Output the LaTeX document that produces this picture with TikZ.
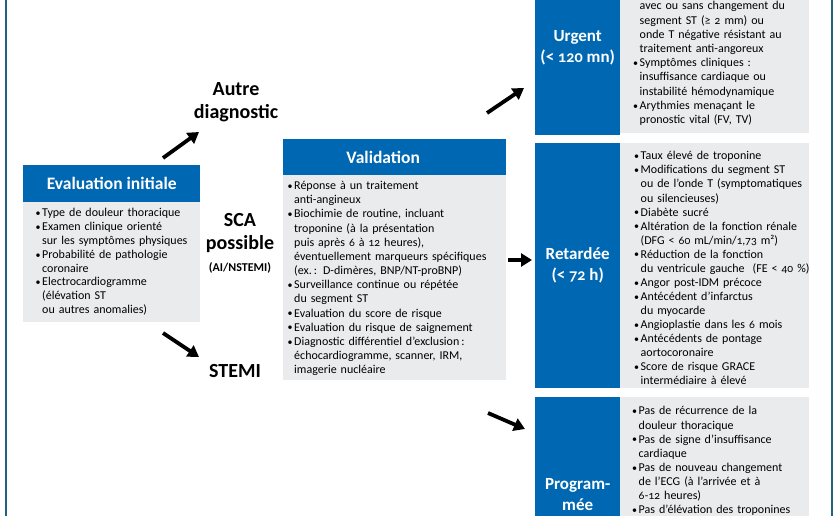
\documentclass[tikz,border=0pt]{standalone}
\usepackage{fontspec}
\setmainfont{Carlito}
\newfontfamily\od{Lato}[Numbers=OldStyle, Scale=0.9]
\usetikzlibrary{arrows.meta}
\definecolor{cblue}{RGB}{0,104,178}
\definecolor{cgray}{RGB}{234,235,236}
\definecolor{cborder}{RGB}{30,98,134}
\setlength\parskip{0pt}
\newlength\bind \setlength\bind{6.5pt}
\newcommand\mybul{\makebox[\bind][l]{\raisebox{0.3pt}{\fontsize{10}{10}\selectfont\textbullet}}}
\newcommand\myitem{\par\noindent\strut\mybul}
\newcommand\mycont{\par\noindent\strut\hspace*{\bind}}
\newcommand\nl{\par\noindent\strut\hspace*{\bind}}
\newcommand\num[1]{{\od #1}}
\tikzset{
  bluebox/.style={fill=cblue, draw=none, inner sep=0pt, anchor=north west, text=white, font=\bfseries\fontsize{17}{21}\selectfont, align=center},
  hdrbox/.style={fill=cblue, draw=none, inner sep=0pt, anchor=north west, text=white, font=\bfseries\fontsize{17.5}{19}\selectfont},
  graybox/.style={fill=cgray, draw=none, inner sep=0pt, anchor=north west},
  bodytext/.style={anchor=north west, inner sep=0pt, text width=260pt, align=left, font={\fontsize{12}{#1}\selectfont}},
  biglabel/.style={anchor=north, inner sep=0pt, text width=120pt, align=center, font=\bfseries\fontsize{20}{23}\selectfont},
  arr/.style={line width=3.8pt, -{Triangle[length=11pt,width=13pt]}},
  border/.style={cborder, line width=2.2pt}
}
\begin{document}
\begin{tikzpicture}[x=1pt,y=-1pt]
\useasboundingbox (0,0) rectangle (840,516);
\clip (0,0) rectangle (840,516);
\fill[white] (0,0) rectangle (840,516);
% frame lines
\draw[border] (5.8,0) -- (5.8,516);
\draw[border] (832,0) -- (832,516);

% Evaluation initiale
\node[hdrbox, minimum width=177pt, minimum height=37pt] (evalh) at (23,165) {Evaluation initiale};
\node[graybox, minimum width=177pt, minimum height=120pt] (evalb) at (23,202) {};
\node[bodytext=13.8pt] (evalt) at (35.5,202.9) {%
\myitem Type de douleur thoracique
\myitem Examen clinique orienté\nl sur les symptômes physiques
\myitem Probabilité de pathologie\nl coronaire
\myitem Electrocardiogramme\nl (élévation ST\nl ou autres anomalies)\par};

% Validation
\node[hdrbox, minimum width=223pt, minimum height=36pt] (valh) at (283,139) {\hspace*{-23pt}Validation};
\node[graybox, minimum width=223pt, minimum height=205pt] (valb) at (283,175) {};
\node[bodytext=14.15pt] (valt) at (287.5,175.3) {%
\myitem Réponse à un traitement\nl anti-angineux
\myitem Biochimie de routine, incluant\nl troponine (à la présentation\nl puis après \num{6} à \num{12} heures),\nl éventuellement marqueurs spécifiques\nl (ex.\,: D-dimères, BNP/NT-proBNP)
\myitem Surveillance continue ou répétée\nl du segment ST
\myitem Evaluation du score de risque
\myitem Evaluation du risque de saignement
\myitem Diagnostic différentiel d'exclusion\,:\nl échocardiogramme, scanner, IRM,\nl imagerie nucléaire\par};

% middle labels
\node[biglabel] (autre) at (236,78.9) {\strut Autre\\diagnostic};
\node[biglabel] (sca) at (240,209.9) {\strut SCA\\possible};
\node[anchor=base, inner sep=0pt, font=\bfseries\fontsize{12}{13}\selectfont] (ainst) at (240,271) {(AI/NSTEMI)};
\node[anchor=base, inner sep=0pt, font=\bfseries\fontsize{20}{23}\selectfont] (stemi) at (235,377) {STEMI};

% Urgent
\node[bluebox, minimum width=85pt, minimum height=174pt] (urgb) at (535,-39) {Urgent\\(< \num{120} mn)};
\node[graybox, minimum width=189pt, minimum height=174pt] (urgg) at (620,-41) {};
\node[bodytext=14.2pt] (urgt) at (633,-4.4) {%
\mycont avec ou sans changement du\nl segment ST (≥ \num{2} mm) ou\nl onde T négative résistant au\nl traitement anti-angoreux
\myitem Symptômes cliniques :\nl insuffisance cardiaque ou\nl instabilité hémodynamique
\myitem Arythmies menaçant le\nl pronostic vital (FV, TV)\par};

% Retardee
\node[bluebox, minimum width=85pt, minimum height=245pt] (retb) at (535,143) {Retardée\\(< \num{72} h)};
\node[graybox, minimum width=189pt, minimum height=245pt] (retg) at (620,143) {};
\node[bodytext=14.05pt] (rett) at (634,145.6) {%
\myitem Taux élevé de troponine
\myitem Modifications du segment ST\nl ou de l'onde T (symptomatiques\nl ou silencieuses)
\myitem Diabète sucré
\myitem Altération de la fonction rénale\nl (DFG < \num{60} mL/min/\num{1,73} m²)
\myitem Réduction de la fonction\nl du ventricule gauche \ (FE < \num{40} \%)
\myitem Angor post-IDM précoce
\myitem Antécédent d'infarctus\nl du myocarde
\myitem Angioplastie dans les \num{6} mois
\myitem Antécédents de pontage\nl aortocoronaire
\myitem Score de risque GRACE\nl intermédiaire à élevé\par};

% Programmee
\node[bluebox, minimum width=85pt, minimum height=194pt] (prob) at (535,397) {Program-\\mée};
\node[graybox, minimum width=189pt, minimum height=194pt] (prog) at (620,397) {};
\node[bodytext=14.1pt] (prot) at (632,400.6) {%
\myitem Pas de récurrence de la\nl douleur thoracique
\myitem Pas de signe d'insuffisance\nl cardiaque
\myitem Pas de nouveau changement\nl de l'ECG (à l'arrivée et à\nl \num{6-12} heures)
\myitem Pas d'élévation des troponines\par};

% arrows
\coordinate (a1s) at (163,158); \coordinate (a1e) at (199,132);
\coordinate (a2s) at (163,333); \coordinate (a2e) at (199,357);
\coordinate (a3s) at (508,260); \coordinate (a3e) at (532,260);
\coordinate (a4s) at (487,113); \coordinate (a4e) at (524,88);
\coordinate (a5s) at (488,413); \coordinate (a5e) at (525,429);
\draw[arr] (a1s) -- (a1e);
\draw[arr] (a2s) -- (a2e);
\draw[arr] (a3s) -- (a3e);
\draw[arr] (a4s) -- (a4e);
\draw[arr] (a5s) -- (a5e);
\end{tikzpicture}
\end{document}
